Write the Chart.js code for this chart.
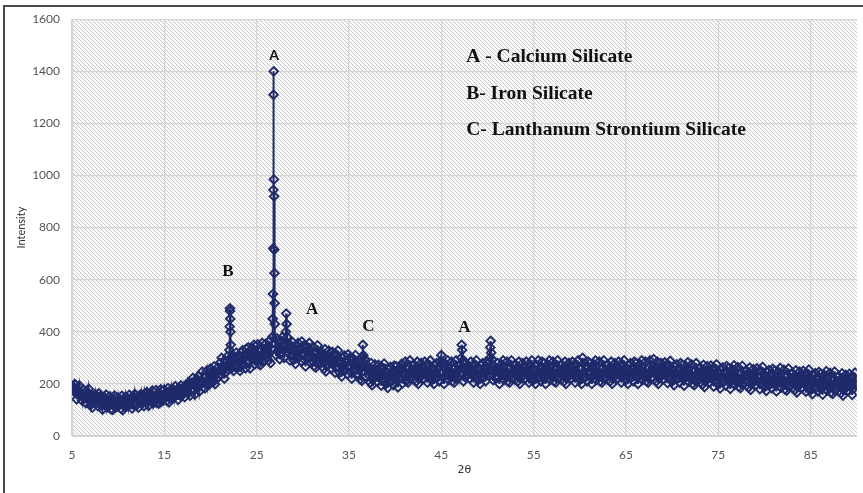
<!DOCTYPE html>
<html>
<head>
<meta charset="utf-8">
<script src="https://cdn.jsdelivr.net/npm/chart.js@4.4.1/dist/chart.umd.min.js"></script>
<style>
  html, body { margin: 0; padding: 0; background: #ffffff; overflow: hidden; }
  #wrap { position: relative; width: 863px; height: 493px; }
  #frame { position: absolute; left: 3px; top: 5px; width: 880px; height: 510px; border: 2px solid #4a4a4a; box-sizing: border-box; pointer-events: none; }
  canvas { position: absolute; left: 0; top: 0; }
</style>
</head>
<body>
<div id="wrap">
  <canvas id="c" width="863" height="493"></canvas>
  <div id="frame"></div>
</div>
<script>
// ---- Data (2θ in degrees, intensity in counts) ----
const twoTheta = [
  5,5.1,5.2,5.3,5.4,5.5,5.6,5.7,5.8,5.9,
  6,6.1,6.2,6.3,6.4,6.5,6.6,6.7,6.8,6.9,
  7,7.1,7.2,7.3,7.4,7.5,7.6,7.7,7.8,7.9,
  8,8.1,8.2,8.3,8.4,8.5,8.6,8.7,8.8,8.9,
  9,9.1,9.2,9.3,9.4,9.5,9.6,9.7,9.8,9.9,
  10,10.1,10.2,10.3,10.4,10.5,10.6,10.7,10.8,10.9,
  11,11.1,11.2,11.3,11.4,11.5,11.6,11.7,11.8,11.9,
  12,12.1,12.2,12.3,12.4,12.5,12.6,12.7,12.8,12.9,
  13,13.1,13.2,13.3,13.4,13.5,13.6,13.7,13.8,13.9,
  14,14.1,14.2,14.3,14.4,14.5,14.6,14.7,14.8,14.9,
  15,15.1,15.2,15.3,15.4,15.5,15.6,15.7,15.8,15.9,
  16,16.1,16.2,16.3,16.4,16.5,16.6,16.7,16.8,16.9,
  17,17.1,17.2,17.3,17.4,17.5,17.6,17.7,17.8,17.9,
  18,18.1,18.2,18.3,18.4,18.5,18.6,18.7,18.8,18.9,
  19,19.1,19.2,19.3,19.4,19.5,19.6,19.7,19.8,19.9,
  20,20.1,20.2,20.3,20.4,20.5,20.6,20.7,20.8,20.9,
  21,21.1,21.2,21.3,21.4,21.5,21.6,21.7,21.8,21.9,
  22,22.05,22.08,22.1,22.12,22.14,22.16,22.19,22.2,22.3,22.4,22.5,22.6,22.7,22.8,22.9,
  23,23.1,23.2,23.3,23.4,23.5,23.6,23.7,23.8,23.9,
  24,24.1,24.2,24.3,24.4,24.5,24.6,24.7,24.8,24.9,
  25,25.1,25.2,25.3,25.4,25.5,25.6,25.7,25.8,25.9,
  26,26.1,26.2,26.3,26.4,26.5,26.6,26.7,26.74,26.77,26.79,26.81,26.83,26.85,26.87,26.89,26.91,26.93,26.95,26.97,
  27,27.1,27.2,27.3,27.4,27.5,27.6,27.7,27.8,27.9,
  28,28.1,28.15,28.2,28.25,28.3,28.4,28.5,28.6,28.7,28.8,28.9,
  29,29.1,29.2,29.3,29.4,29.5,29.6,29.7,29.8,29.9,
  30,30.1,30.2,30.3,30.4,30.5,30.6,30.7,30.8,30.9,
  31,31.1,31.2,31.3,31.4,31.5,31.6,31.7,31.8,31.9,
  32,32.1,32.2,32.3,32.4,32.5,32.6,32.7,32.8,32.9,
  33,33.1,33.2,33.3,33.4,33.5,33.6,33.7,33.8,33.9,
  34,34.1,34.2,34.3,34.4,34.5,34.6,34.7,34.8,34.9,
  35,35.1,35.2,35.3,35.4,35.5,35.6,35.7,35.8,35.9,
  36,36.1,36.2,36.3,36.4,36.45,36.5,36.55,36.6,36.7,36.8,36.9,
  37,37.1,37.2,37.3,37.4,37.5,37.6,37.7,37.8,37.9,
  38,38.1,38.2,38.3,38.4,38.5,38.6,38.7,38.8,38.9,
  39,39.1,39.2,39.3,39.4,39.5,39.6,39.7,39.8,39.9,
  40,40.1,40.2,40.3,40.4,40.5,40.6,40.7,40.8,40.9,
  41,41.1,41.2,41.3,41.4,41.5,41.6,41.7,41.8,41.9,
  42,42.1,42.2,42.3,42.4,42.5,42.6,42.7,42.8,42.9,
  43,43.1,43.2,43.3,43.4,43.5,43.6,43.7,43.8,43.9,
  44,44.1,44.2,44.3,44.4,44.5,44.6,44.7,44.8,44.9,
  45,45.1,45.2,45.3,45.4,45.5,45.6,45.7,45.8,45.9,
  46,46.1,46.2,46.3,46.4,46.5,46.6,46.7,46.8,46.9,
  47,47.1,47.15,47.2,47.25,47.3,47.4,47.5,47.6,47.7,47.8,47.9,
  48,48.1,48.2,48.3,48.4,48.5,48.6,48.7,48.8,48.9,
  49,49.1,49.2,49.3,49.4,49.5,49.6,49.7,49.8,49.9,
  50,50.1,50.2,50.25,50.3,50.35,50.4,50.5,50.6,50.7,50.8,50.9,
  51,51.1,51.2,51.3,51.4,51.5,51.6,51.7,51.8,51.9,
  52,52.1,52.2,52.3,52.4,52.5,52.6,52.7,52.8,52.9,
  53,53.1,53.2,53.3,53.4,53.5,53.6,53.7,53.8,53.9,
  54,54.1,54.2,54.3,54.4,54.5,54.6,54.7,54.8,54.9,
  55,55.1,55.2,55.3,55.4,55.5,55.6,55.7,55.8,55.9,
  56,56.1,56.2,56.3,56.4,56.5,56.6,56.7,56.8,56.9,
  57,57.1,57.2,57.3,57.4,57.5,57.6,57.7,57.8,57.9,
  58,58.1,58.2,58.3,58.4,58.5,58.6,58.7,58.8,58.9,
  59,59.1,59.2,59.3,59.4,59.5,59.6,59.7,59.8,59.9,
  60,60.1,60.2,60.3,60.4,60.5,60.6,60.7,60.8,60.9,
  61,61.1,61.2,61.3,61.4,61.5,61.6,61.7,61.8,61.9,
  62,62.1,62.2,62.3,62.4,62.5,62.6,62.7,62.8,62.9,
  63,63.1,63.2,63.3,63.4,63.5,63.6,63.7,63.8,63.9,
  64,64.1,64.2,64.3,64.4,64.5,64.6,64.7,64.8,64.9,
  65,65.1,65.2,65.3,65.4,65.5,65.6,65.7,65.8,65.9,
  66,66.1,66.2,66.3,66.4,66.5,66.6,66.7,66.8,66.9,
  67,67.1,67.2,67.3,67.4,67.5,67.6,67.7,67.8,67.9,
  68,68.1,68.2,68.3,68.4,68.5,68.6,68.7,68.8,68.9,
  69,69.1,69.2,69.3,69.4,69.5,69.6,69.7,69.8,69.9,
  70,70.1,70.2,70.3,70.4,70.5,70.6,70.7,70.8,70.9,
  71,71.1,71.2,71.3,71.4,71.5,71.6,71.7,71.8,71.9,
  72,72.1,72.2,72.3,72.4,72.5,72.6,72.7,72.8,72.9,
  73,73.1,73.2,73.3,73.4,73.5,73.6,73.7,73.8,73.9,
  74,74.1,74.2,74.3,74.4,74.5,74.6,74.7,74.8,74.9,
  75,75.1,75.2,75.3,75.4,75.5,75.6,75.7,75.8,75.9,
  76,76.1,76.2,76.3,76.4,76.5,76.6,76.7,76.8,76.9,
  77,77.1,77.2,77.3,77.4,77.5,77.6,77.7,77.8,77.9,
  78,78.1,78.2,78.3,78.4,78.5,78.6,78.7,78.8,78.9,
  79,79.1,79.2,79.3,79.4,79.5,79.6,79.7,79.8,79.9,
  80,80.1,80.2,80.3,80.4,80.5,80.6,80.7,80.8,80.9,
  81,81.1,81.2,81.3,81.4,81.5,81.6,81.7,81.8,81.9,
  82,82.1,82.2,82.3,82.4,82.5,82.6,82.7,82.8,82.9,
  83,83.1,83.2,83.3,83.4,83.5,83.6,83.7,83.8,83.9,
  84,84.1,84.2,84.3,84.4,84.5,84.6,84.7,84.8,84.9,
  85,85.1,85.2,85.3,85.4,85.5,85.6,85.7,85.8,85.9,
  86,86.1,86.2,86.3,86.4,86.5,86.6,86.7,86.8,86.9,
  87,87.1,87.2,87.3,87.4,87.5,87.6,87.7,87.8,87.9,
  88,88.1,88.2,88.3,88.4,88.5,88.6,88.7,88.8,88.9,
  89,89.1,89.2,89.3,89.4,89.5,89.6,89.7,89.8,89.9,
  90
];
const intensity = [
  190,175,180,200,196,141,177,157,193,163,
  165,136,178,146,155,126,172,142,181,149,
  118,145,109,154,135,161,125,148,115,164,
  133,153,117,101,140,150,123,159,110,130,
  116,152,103,133,100,139,155,110,129,113,
  148,125,138,105,154,99,135,115,151,121,
  145,116,158,126,135,106,152,122,161,129,
  118,145,109,154,135,161,125,148,115,164,
  148,168,132,116,155,165,138,174,125,145,
  140,176,127,157,124,163,179,134,153,137,
  178,155,168,135,184,129,165,145,181,151,
  178,149,191,159,168,139,185,155,194,162,
  158,185,149,194,175,201,165,188,155,204,
  199,223,179,159,207,219,187,231,171,195,
  203,247,187,223,183,231,251,195,219,199,
  259,231,247,207,267,199,243,219,263,227,
  280,235,300,250,265,220,290,245,305,255,
  270,330,420,490,480,450,400,350,300,260,310,250,300,265,320,275,
  265,305,250,320,290,330,275,310,260,335,
  310,340,285,260,320,335,295,350,275,305,
  297,352,277,322,272,332,357,287,317,292,
  355,320,340,290,365,280,335,380,450,545,720,945,1310,1400,985,920,715,625,510,430,
  355,310,375,325,340,295,365,320,380,330,
  300,345,400,470,430,380,320,355,290,340,310,360,
  292,332,277,347,317,357,302,337,287,362,
  317,347,292,267,327,342,302,357,282,312,
  288,343,268,313,263,323,348,278,308,283,
  323,288,308,258,333,248,303,273,328,283,
  303,258,323,273,288,243,313,268,328,278,
  243,283,228,298,268,308,253,288,238,313,
  270,300,245,220,280,295,255,310,235,265,
  237,292,217,262,212,300,350,310,272,297,227,257,
  270,235,255,205,280,195,250,220,275,230,
  253,208,273,223,238,193,263,218,278,228,
  200,240,185,255,225,265,210,245,195,270,
  237,267,212,187,247,262,222,277,202,232,
  230,285,210,255,205,265,290,220,250,225,
  275,240,260,210,285,200,255,225,280,235,
  265,220,285,235,250,205,275,230,290,240,
  215,255,200,270,240,280,225,260,210,285,
  310,280,225,200,260,275,235,290,215,245,
  230,285,210,255,205,265,290,220,250,225,
  275,240,300,350,330,285,210,260,225,280,235,265,
  265,220,285,235,250,205,275,230,290,240,
  215,255,200,270,240,280,225,260,210,285,
  250,280,230,300,340,365,320,295,215,270,225,260,
  250,280,225,200,260,275,235,290,215,245,
  230,285,210,255,205,265,290,220,250,225,
  275,240,260,210,285,200,255,225,280,235,
  265,220,285,235,250,205,275,230,290,240,
  215,255,200,270,240,290,225,260,210,285,
  250,280,225,200,260,275,235,290,215,245,
  230,285,210,255,205,265,290,220,250,225,
  275,240,260,210,285,200,255,225,280,235,
  265,220,285,235,250,205,275,230,290,240,
  215,255,200,300,240,280,225,260,210,285,
  250,280,225,200,260,275,235,290,215,245,
  230,285,210,255,205,265,290,220,250,225,
  275,240,260,210,285,200,255,225,280,235,
  265,220,285,235,250,205,275,230,290,240,
  215,255,200,270,240,280,225,260,210,285,
  250,280,225,200,260,275,235,290,215,245,
  230,285,210,255,205,265,290,220,250,225,
  295,240,260,210,285,200,255,225,280,235,
  263,218,283,233,248,203,273,228,288,238,
  210,250,195,265,235,275,220,255,205,280,
  243,273,218,193,253,268,228,283,208,238,
  220,275,200,245,195,255,280,210,240,215,
  263,228,248,198,273,188,243,213,268,223,
  250,205,270,220,235,190,260,215,275,225,
  198,238,183,253,223,263,208,243,193,268,
  231,261,206,181,241,256,216,271,196,226,
  209,264,189,234,184,244,269,199,229,204,
  252,217,237,187,262,177,232,202,257,212,
  240,195,260,210,225,180,250,205,265,215,
  188,228,173,243,213,253,198,233,183,258,
  221,251,196,171,231,246,206,261,186,216,
  199,254,179,224,174,234,259,189,219,194,
  242,207,227,177,252,167,222,192,247,202,
  230,185,250,200,215,170,240,195,255,205,
  176,216,161,231,201,241,186,221,171,246,
  209,239,184,159,219,234,194,249,174,204,
  187,242,167,212,162,222,247,177,207,182,
  230,195,215,165,240,155,210,180,235,190,
  218,173,238,188,203,158,228,183,243,193,
  200
];
const xTickValues = [5, 15, 25, 35, 45, 55, 65, 75, 85];
const yTickValues = [0, 200, 400, 600, 800, 1000, 1200, 1400, 1600];

// Peak letters and key text, placed in data coordinates (2θ, intensity)
const peakLabels = ['A', 'B', 'A', 'C', 'A'];
const peakLabelTheta = [26.9, 21.9, 31.0, 37.1, 47.5];
const peakLabelIntensity = [1462, 630, 485, 420, 416];
const keyLines = ['A - Calcium Silicate', 'B- Iron Silicate', 'C- Lanthanum Strontium Silicate'];
const keyTheta = 47.7;
const keyIntensity = [1454, 1314, 1174];

if (twoTheta.length !== intensity.length) {
  throw new Error('length mismatch ' + twoTheta.length + ' vs ' + intensity.length);
}

const points = twoTheta.map((t, i) => ({ x: t, y: intensity[i] }));
const navy = '#1f2a6b';

const hatchPlugin = {
  id: 'hatch',
  beforeDraw(chart) {
    const { ctx, chartArea: a } = chart;
    const tile = document.createElement('canvas');
    tile.width = 4; tile.height = 4;
    const g = tile.getContext('2d');
    g.fillStyle = '#fafafa';
    g.fillRect(0, 0, 4, 4);
    g.fillStyle = '#c9c9c9';
    for (let i = 0; i < 4; i++) g.fillRect(i, i, 1, 1);
    ctx.save();
    ctx.fillStyle = ctx.createPattern(tile, 'repeat');
    ctx.fillRect(a.left, a.top, a.right - a.left, a.bottom - a.top);
    ctx.restore();
  }
};

const labelPlugin = {
  id: 'labels',
  afterDatasetsDraw(chart) {
    const { ctx, scales: { x, y } } = chart;
    ctx.save();
    ctx.textBaseline = 'middle';
    ctx.textAlign = 'center';
    ctx.fillStyle = '#111111';
    peakLabels.forEach((t, i) => {
      ctx.font = i === 0 ? 'bold 14px Lato, "Liberation Sans", sans-serif'
                         : 'bold 17px "Liberation Serif", "DejaVu Serif", serif';
      ctx.fillText(t, x.getPixelForValue(peakLabelTheta[i]), y.getPixelForValue(peakLabelIntensity[i]));
    });
    ctx.textAlign = 'left';
    ctx.font = 'bold 19.5px "Liberation Serif", "DejaVu Serif", serif';
    keyLines.forEach((t, i) => {
      ctx.fillText(t, x.getPixelForValue(keyTheta), y.getPixelForValue(keyIntensity[i]));
    });
    ctx.restore();
  }
};

new Chart(document.getElementById('c'), {
  type: 'line',
  data: {
    datasets: [{
      data: points,
      borderColor: navy,
      borderWidth: 2,
      pointStyle: 'rectRot',
      pointRadius: 4.3,
      pointBorderWidth: 1.9,
      pointBorderColor: navy,
      pointBackgroundColor: 'rgba(255,255,255,0)',
      tension: 0
    }]
  },
  options: {
    responsive: false,
    animation: false,
    parsing: false,
    layout: { padding: { left: 0, top: 17, right: 4, bottom: 0 } },
    plugins: { legend: { display: false }, tooltip: { enabled: false } },
    scales: {
      x: {
        type: 'linear',
        min: 5, max: 90,
        afterBuildTicks: (s) => { s.ticks = xTickValues.map(v => ({ value: v })); },
        afterFit: (s) => { s.height = 57; },
        grid: { color: '#d4d4d4', lineWidth: 1.2, drawTicks: false },
        border: { display: true, color: '#d4d4d4' },
        ticks: { padding: 12, color: '#555555', font: { family: 'Lato', size: 12 }, maxRotation: 0, callback: (v) => String(v) },
        title: { display: true, text: '2θ', color: '#333333', font: { family: '"DejaVu Sans"', size: 11 }, padding: { top: 0, bottom: 16 } }
      },
      y: {
        min: 0, max: 1600,
        afterBuildTicks: (s) => { s.ticks = yTickValues.map(v => ({ value: v })); },
        afterFit: (s) => { s.width = 72; },
        grid: { color: '#d4d4d4', lineWidth: 1.2, drawTicks: false },
        border: { display: true, color: '#d4d4d4' },
        ticks: { padding: 12, color: '#555555', font: { family: 'Lato', size: 12 }, callback: (v) => String(v) },
        title: { display: true, text: 'Intensity', color: '#333333', font: { family: 'Lato', size: 11 }, padding: { top: 15, bottom: 0 } }
      }
    }
  },
  plugins: [hatchPlugin, labelPlugin]
});
</script>
</body>
</html>
